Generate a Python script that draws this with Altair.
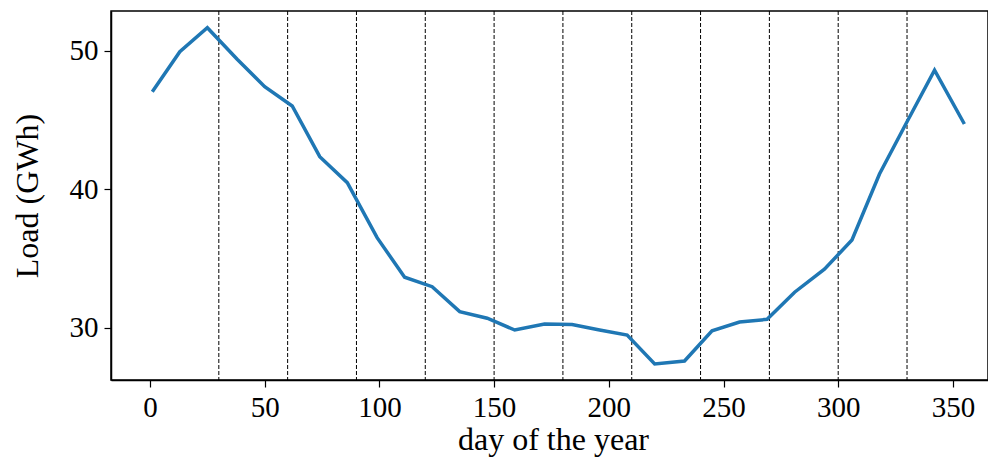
import altair as alt
import pandas as pd

days = [1, 13, 25, 38, 50, 62, 74, 86, 99, 111, 123, 135, 147, 159, 172,
        184, 196, 208, 220, 233, 245, 257, 269, 281, 294, 306, 318, 330, 342, 355]
load = [47.04, 49.93, 51.66, 49.38, 47.40, 46.01, 42.35, 40.47, 36.50, 33.64,
        32.96, 31.16, 30.68, 29.83, 30.27, 30.22, 29.83, 29.47, 27.38, 27.59,
        29.78, 30.41, 30.60, 32.56, 34.22, 36.33, 41.10, 44.87, 48.60, 44.71]
month_marks = [30, 60, 90, 120, 150, 180, 210, 240, 270, 300, 330]
x_ticks = [0, 50, 100, 150, 200, 250, 300, 350]
y_ticks = [30, 40, 50]

df = pd.DataFrame({"day": days, "load": load})
vdf = pd.DataFrame({"m": month_marks})

FONT = "Liberation Serif"

xscale = alt.Scale(domain=[-17, 365.3], nice=False, zero=False)
yscale = alt.Scale(domain=[26.22, 52.87], nice=False, zero=False)

xaxis = alt.Axis(title="day of the year", values=x_ticks, grid=False,
                 labelFontSize=29, titleFontSize=32, labelFont=FONT, titleFont=FONT,
                 labelColor="black", titleColor="black", titleFontWeight="normal",
                 tickColor="black", domainColor="black", tickSize=7, tickWidth=1.2,
                 domainWidth=1.5, labelPadding=6, titlePadding=2, labelFlush=False,
                 titleX=442)
yaxis = alt.Axis(title="Load (GWh)", values=y_ticks, grid=False,
                 labelFontSize=29, titleFontSize=32, labelFont=FONT, titleFont=FONT,
                 labelColor="black", titleColor="black", titleFontWeight="normal",
                 tickColor="black", domainColor="black", tickSize=7, tickWidth=1.2,
                 domainWidth=1.5, labelPadding=6, titlePadding=25, labelFlush=False)

rules = alt.Chart(vdf).mark_rule(color="black", strokeWidth=1, strokeDash=[4, 2]).encode(
    x=alt.X("m:Q", scale=xscale, axis=xaxis)
)

line = alt.Chart(df).mark_line(color="#1f77b4", strokeWidth=3.5).encode(
    x=alt.X("day:Q", scale=xscale, axis=xaxis),
    y=alt.Y("load:Q", scale=yscale, axis=yaxis),
)

chart = alt.layer(rules, line).properties(
    width=877, height=369,
    autosize=alt.AutoSizeParams(type="none"),
    padding={"left": 103, "top": 3, "right": 0, "bottom": 78},
).configure(
    background="white",
    view=alt.ViewConfig(stroke="black", strokeWidth=1.5),
)

chart.save("out.html", embed_options={"renderer": "svg", "actions": False})
